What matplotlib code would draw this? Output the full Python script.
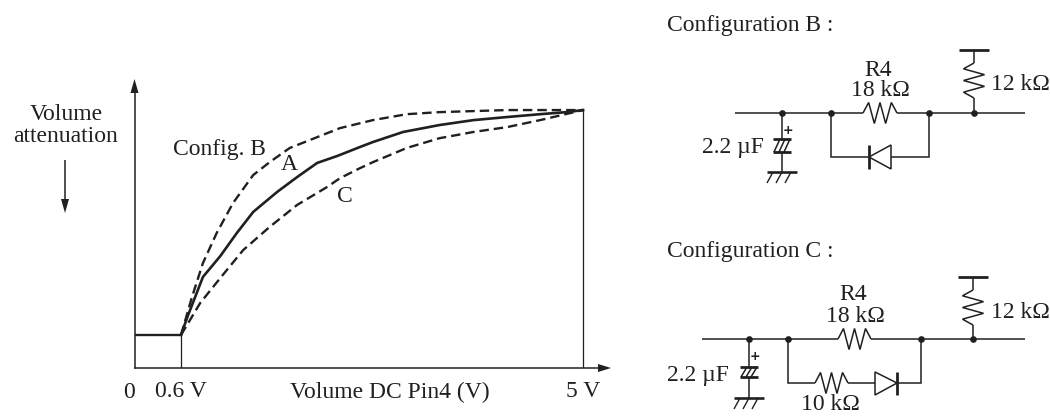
import numpy as np
import matplotlib
matplotlib.use("Agg")
import matplotlib.pyplot as plt

plt.rcParams["font.family"] = ["Liberation Serif", "DejaVu Serif"]

## curve values, volts against attenuation (percent of the top level)
a_volts = [0.6, 0.67, 0.84, 1.03, 1.21, 1.39, 1.65, 1.87, 2.09, 2.31, 2.56, 2.70, 3.03, 3.43, 3.80, 4.17, 4.53, 4.82, 5.0]
a_level = [12.8, 19.8, 35.3, 43.4, 52.3, 60.5, 68.2, 74.0, 79.5, 82.2, 85.7, 87.6, 91.5, 94.2, 96.1, 97.3, 98.4, 99.2, 100]
b_volts = [0.6, 0.72, 0.84, 0.99, 1.17, 1.39, 1.57, 1.79, 2.09, 2.34, 2.70, 3.07, 3.43, 3.80, 4.17, 4.53, 5.0]
b_level = [12.8, 27.5, 40.7, 52.3, 64.0, 74.8, 79.8, 85.3, 89.5, 93.0, 96.1, 98.4, 99.2, 99.6, 100, 100, 100]
c_volts = [0.6, 0.81, 1.03, 1.28, 1.57, 1.87, 2.20, 2.34, 2.56, 2.70, 3.07, 3.43, 3.80, 4.17, 4.53, 5.0]
c_level = [12.8, 25.2, 34.9, 45.7, 54.7, 63.2, 70.2, 73.6, 77.5, 79.8, 85.3, 89.1, 91.5, 93.4, 96.1, 100]
flat_level = 12.8
tick_volts = [0.6, 5.0]
tick_labels = ["0.6 V", "5 V"]

W, H = 1050, 416
INK = "#231f20"
FS = 17
fig = plt.figure(figsize=(W / 100, H / 100), dpi=100)

# chart axes, placed in pixels
left, right, top, bottom = 134.5, 600, 92, 368
ax = fig.add_axes([left / W, 1 - bottom / H, (right - left) / W, (bottom - top) / H])
ax.set_xlim(0.091, 5.185)
ax.set_ylim(0, 107)
ax.patch.set_alpha(0)
for s in ("top", "right"):
    ax.spines[s].set_visible(False)
for s in ("left", "bottom"):
    ax.spines[s].set_color(INK)
    ax.spines[s].set_linewidth(1.1)
ax.set_yticks([])
ax.set_xticks(tick_volts, tick_labels, fontsize=FS, color=INK)
ax.tick_params(axis="x", length=0, pad=9.5, colors=INK)

ax.plot([0.6, 0.6], [0, flat_level], color=INK, lw=0.9)
ax.plot([5, 5], [0, 100], color=INK, lw=0.9)
ax.plot([0.091, 0.6], [flat_level, flat_level], color=INK, lw=1.7)
ax.plot(a_volts, a_level, color=INK, lw=1.9)
ax.plot(b_volts, b_level, color=INK, lw=1.7, dashes=(4, 2.1))
ax.plot(c_volts, c_level, color=INK, lw=1.7, dashes=(4, 2.1))

# overlay in image pixels for labels and the two schematics
ov = fig.add_axes([0, 0, 1, 1])
ov.set_xlim(0, W)
ov.set_ylim(H, 0)
ov.axis("off")


def label(x, y, s, ha="center"):
    ov.text(x, y + 2, s, ha=ha, va="center", fontsize=FS, color=INK)


def wire(xs, ys, lw=1.1):
    ov.plot(xs, ys, color=INK, lw=lw, solid_capstyle="butt", solid_joinstyle="miter")


def dots(xs, y):
    ov.plot(xs, [y] * len(xs), "o", color=INK, ms=4.8, mew=0)


def zigzag(a, b, amp=10.5):
    t = np.linspace(a, b, 7)
    off = np.array([0, -1, 1, -1, 1, -1, 0]) * amp
    return t, off


def res_h(x0, x1, y):
    t, off = zigzag(x0, x1)
    wire(t, y + off)


def res_v(x, y0, y1):
    t, off = zigzag(y0, y1)
    wire(x + off, t)


def cap(x, y0, y1, y2, yg, plus_y):
    # polarised capacitor with ground
    wire([x, x], [y0, y1])
    wire([x, x], [y2, yg])
    wire([x - 9, x + 9], [y1, y1], 2.0)
    wire([x - 9, x + 9], [y2, y2], 2.0)
    for dx in (-5, 0, 5):
        wire([x + dx - 3, x + dx + 3], [y2, y1], 1.1)
    wire([x - 15, x + 15], [yg, yg], 1.9)
    for dx in (-9, 0, 9):
        wire([x + dx - 6, x + dx], [yg + 11, yg], 1.0)
    ov.text(x + 6, plus_y, "+", ha="center", va="center", fontsize=9, color=INK, fontweight="bold", family="DejaVu Sans")


def rail(x, y0, y1, wire_y):
    wire([x - 15, x + 15], [y0, y0], 2.0)
    wire([x, x], [y0, y1[0]])
    res_v(x, y1[0], y1[1])
    wire([x, x], [y1[1], wire_y])


# axis arrow heads and the small down arrow
ov.fill([598, 611, 598], [364, 368, 372], color=INK, lw=0)
ov.fill([130.5, 134.5, 138.5], [93, 79, 93], color=INK, lw=0)
wire([65, 65], [160, 200])
ov.fill([61, 65, 69], [199, 213, 199], color=INK, lw=0)

# chart labels
label(66, 112, "Volume")
label(65, 135, "attenuation")
label(219.5, 147, "Config. B")
label(289, 162, "A")
label(345, 194, "C")
label(129, 390, "0")
label(389.5, 390, "Volume DC Pin4 (V)")

# configuration B
label(667, 24, "Configuration B :", ha="left")
y = 113
wire([735, 863], [y, y])
res_h(863, 897, y)
wire([897, 1025], [y, y])
dots([782, 831, 929, 974], y)
rail(974, 50, (63, 98), y)
cap(782, y, 139, 152, 172, 130)
wire([831, 831, 869], [y, 157, 157])
wire([891, 929, 929], [157, 157, y])
ov.fill([869, 891, 891], [157, 145, 169], facecolor="white", edgecolor=INK, lw=1.1, zorder=3)
wire([869, 869], [145, 169], 2.0)
label(878.5, 68, "R4")
label(880, 88, "18 k\u03a9")
label(991, 83, "12 k\u03a9", ha="left")
label(702, 145, "2.2 \u00b5F", ha="left")

# configuration C
label(667, 250, "Configuration C :", ha="left")
y = 339
wire([702, 838], [y, y])
res_h(838, 871, y)
wire([871, 1025], [y, y])
dots([749, 788, 921, 973], y)
rail(973, 277, (290, 325), y)
cap(749, y, 367, 377, 398, 357)
wire([788, 788, 815], [y, 383, 383])
res_h(815, 848, 383)
wire([848, 875], [383, 383])
wire([897, 921, 921], [383, 383, y])
ov.fill([875, 875, 897], [372, 395, 383], facecolor="white", edgecolor=INK, lw=1.1, zorder=3)
wire([897, 897], [372, 395], 2.0)
label(853, 293, "R4")
label(855, 315, "18 k\u03a9")
label(991, 310, "12 k\u03a9", ha="left")
label(667, 373, "2.2 \u00b5F", ha="left")
label(830, 402, "10 k\u03a9")

fig.savefig("out.png", dpi=100)
